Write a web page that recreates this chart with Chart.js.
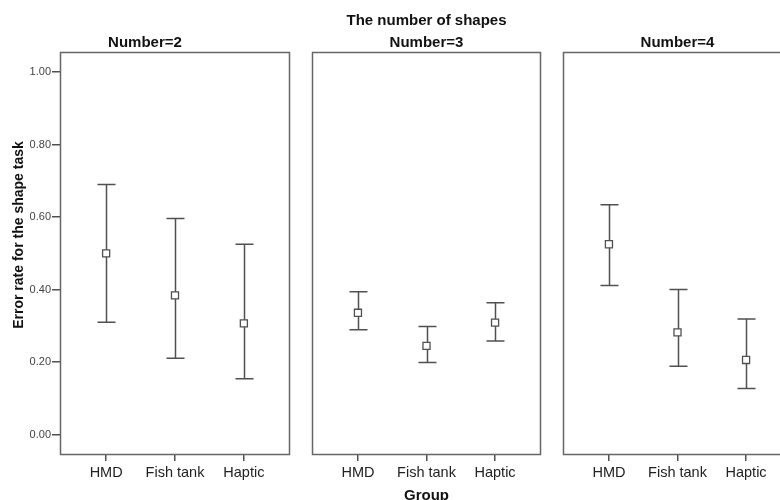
<!DOCTYPE html>
<html>
<head>
<meta charset="utf-8">
<script src="https://cdn.jsdelivr.net/npm/chart.js@4/dist/chart.umd.min.js"></script>
<style>
  html, body { margin: 0; padding: 0; background: #fff; }
  body { width: 780px; height: 500px; overflow: hidden; position: relative; }
  canvas { position: absolute; top: 0; }
</style>
</head>
<body>
<canvas id="c1" width="291" height="500" style="left:0px"></canvas>
<canvas id="c2" width="231" height="500" style="left:311px"></canvas>
<canvas id="c3" width="231" height="500" style="left:562px"></canvas>
<script>
// ---- data ----
const categories = ['HMD', 'Fish tank', 'Haptic'];
const panelLabels = ['Number=2', 'Number=3', 'Number=4'];
const superTitle = 'The number of shapes';
const yTitle = 'Error rate for the shape task';
const xTitle = 'Group';
const yTicks = [0.0, 0.2, 0.4, 0.6, 0.8, 1.0];

const means2 = [0.500, 0.384, 0.307];
const lower2 = [0.310, 0.211, 0.154];
const upper2 = [0.690, 0.596, 0.525];

const means3 = [0.336, 0.245, 0.309];
const lower3 = [0.289, 0.199, 0.258];
const upper3 = [0.394, 0.298, 0.364];

const means4 = [0.525, 0.282, 0.206];
const lower4 = [0.411, 0.189, 0.127];
const upper4 = [0.634, 0.400, 0.319];

// ---- styling ----
const FONT = "'Liberation Sans', Arial, sans-serif";
const LINE = '#505050';
const BORDER = '#666666';

const frameAndErrors = {
  id: 'frameAndErrors',
  beforeDatasetsDraw(chart, args, opts) {
    const {ctx, chartArea: a, scales: {x, y}} = chart;
    ctx.save();
    ctx.strokeStyle = BORDER;
    ctx.lineWidth = 1.5;
    ctx.strokeRect(a.left + 0.5, a.top + 0.5, a.right - a.left - 1, a.bottom - a.top - 1);
    ctx.strokeStyle = LINE;
    ctx.lineWidth = 1.5;
    const lo = opts.lower, hi = opts.upper;
    for (let i = 0; i < lo.length; i++) {
      const px = Math.round(x.getPixelForValue(i)) + 0.5;
      const pl = y.getPixelForValue(lo[i]);
      const ph = y.getPixelForValue(hi[i]);
      ctx.beginPath();
      ctx.moveTo(px, pl); ctx.lineTo(px, ph);
      ctx.moveTo(px - 9, pl); ctx.lineTo(px + 9, pl);
      ctx.moveTo(px - 9, ph); ctx.lineTo(px + 9, ph);
      ctx.stroke();
    }
    ctx.restore();
  }
};

const yTitlePlugin = {
  id: 'yTitlePlugin',
  afterDraw(chart, args, opts) {
    if (!opts.text) return;
    const ctx = chart.ctx;
    ctx.save();
    ctx.translate(19, 235);
    ctx.rotate(-Math.PI / 2);
    ctx.font = "bold 14px " + FONT;
    ctx.fillStyle = '#111';
    ctx.textAlign = 'center';
    ctx.textBaseline = 'middle';
    ctx.fillText(opts.text, 0, 0);
    ctx.restore();
  }
};

function makeChart(id, idx, means, lower, upper, titleText, showY, showXTitle) {
  const padLeft = showY ? 0 : 1;
  const singleTitle = !Array.isArray(titleText);
  return new Chart(document.getElementById(id), {
    type: 'scatter',
    data: {
      datasets: [{
        data: means.map((m, i) => ({x: i, y: m})),
        pointStyle: 'rect',
        pointRadius: 5,
        pointHoverRadius: 5,
        pointBackgroundColor: '#ffffff',
        pointBorderColor: LINE,
        pointBorderWidth: 1.3,
        showLine: false
      }]
    },
    plugins: [frameAndErrors, yTitlePlugin],
    options: {
      responsive: false,
      animation: false,
      events: [],
      layout: {autoPadding: false, padding: {left: padLeft, right: 1, top: 0, bottom: 0}},
      plugins: {
        legend: {display: false},
        tooltip: {enabled: false},
        title: {
          display: true,
          text: titleText,
          color: '#111',
          font: {family: FONT, size: 15, weight: 'bold', lineHeight: '22px'},
          padding: singleTitle ? {top: 32, bottom: -2} : {top: 10, bottom: -2}
        },
        frameAndErrors: {lower: lower, upper: upper},
        yTitlePlugin: {text: showY ? yTitle : ''}
      },
      scales: {
        x: {
          type: 'linear',
          min: -0.67,
          max: 2.67,
          afterBuildTicks: s => { s.ticks = categories.map((c, i) => ({value: i})); },
          afterFit: s => { s.height = 45; s.paddingLeft = 0; s.paddingRight = 0; },
          ticks: {
            callback: v => categories[v],
            color: '#222',
            font: {family: FONT, size: 14.5},
            padding: 3,
            maxRotation: 0,
            autoSkip: false
          },
          grid: {drawOnChartArea: false, drawTicks: true, tickLength: 6, color: LINE, lineWidth: 1.5},
          border: {display: false},
          title: {
            display: showXTitle,
            text: xTitle,
            color: '#111',
            font: {family: FONT, size: 15, weight: 'bold', lineHeight: 1.2},
            padding: {top: 0, bottom: -5}
          }
        },
        y: {
          display: showY,
          min: -0.056,
          max: 1.055,
          afterBuildTicks: s => { s.ticks = yTicks.map(v => ({value: v})); },
          afterFit: s => { s.width = showY ? 60 : 0; s.paddingTop = 0; s.paddingBottom = 0; },
          ticks: {
            callback: v => Number(v).toFixed(2),
            color: '#444',
            font: {family: FONT, size: 11},
            padding: 1
          },
          grid: {drawOnChartArea: false, drawTicks: true, tickLength: 8, color: LINE, lineWidth: 1.5},
          border: {display: false}
        }
      }
    }
  });
}

makeChart('c1', 0, means2, lower2, upper2, panelLabels[0], true, false);
makeChart('c2', 1, means3, lower3, upper3, [superTitle, panelLabels[1]], false, true);
makeChart('c3', 2, means4, lower4, upper4, panelLabels[2], false, false);
</script>
</body>
</html>
